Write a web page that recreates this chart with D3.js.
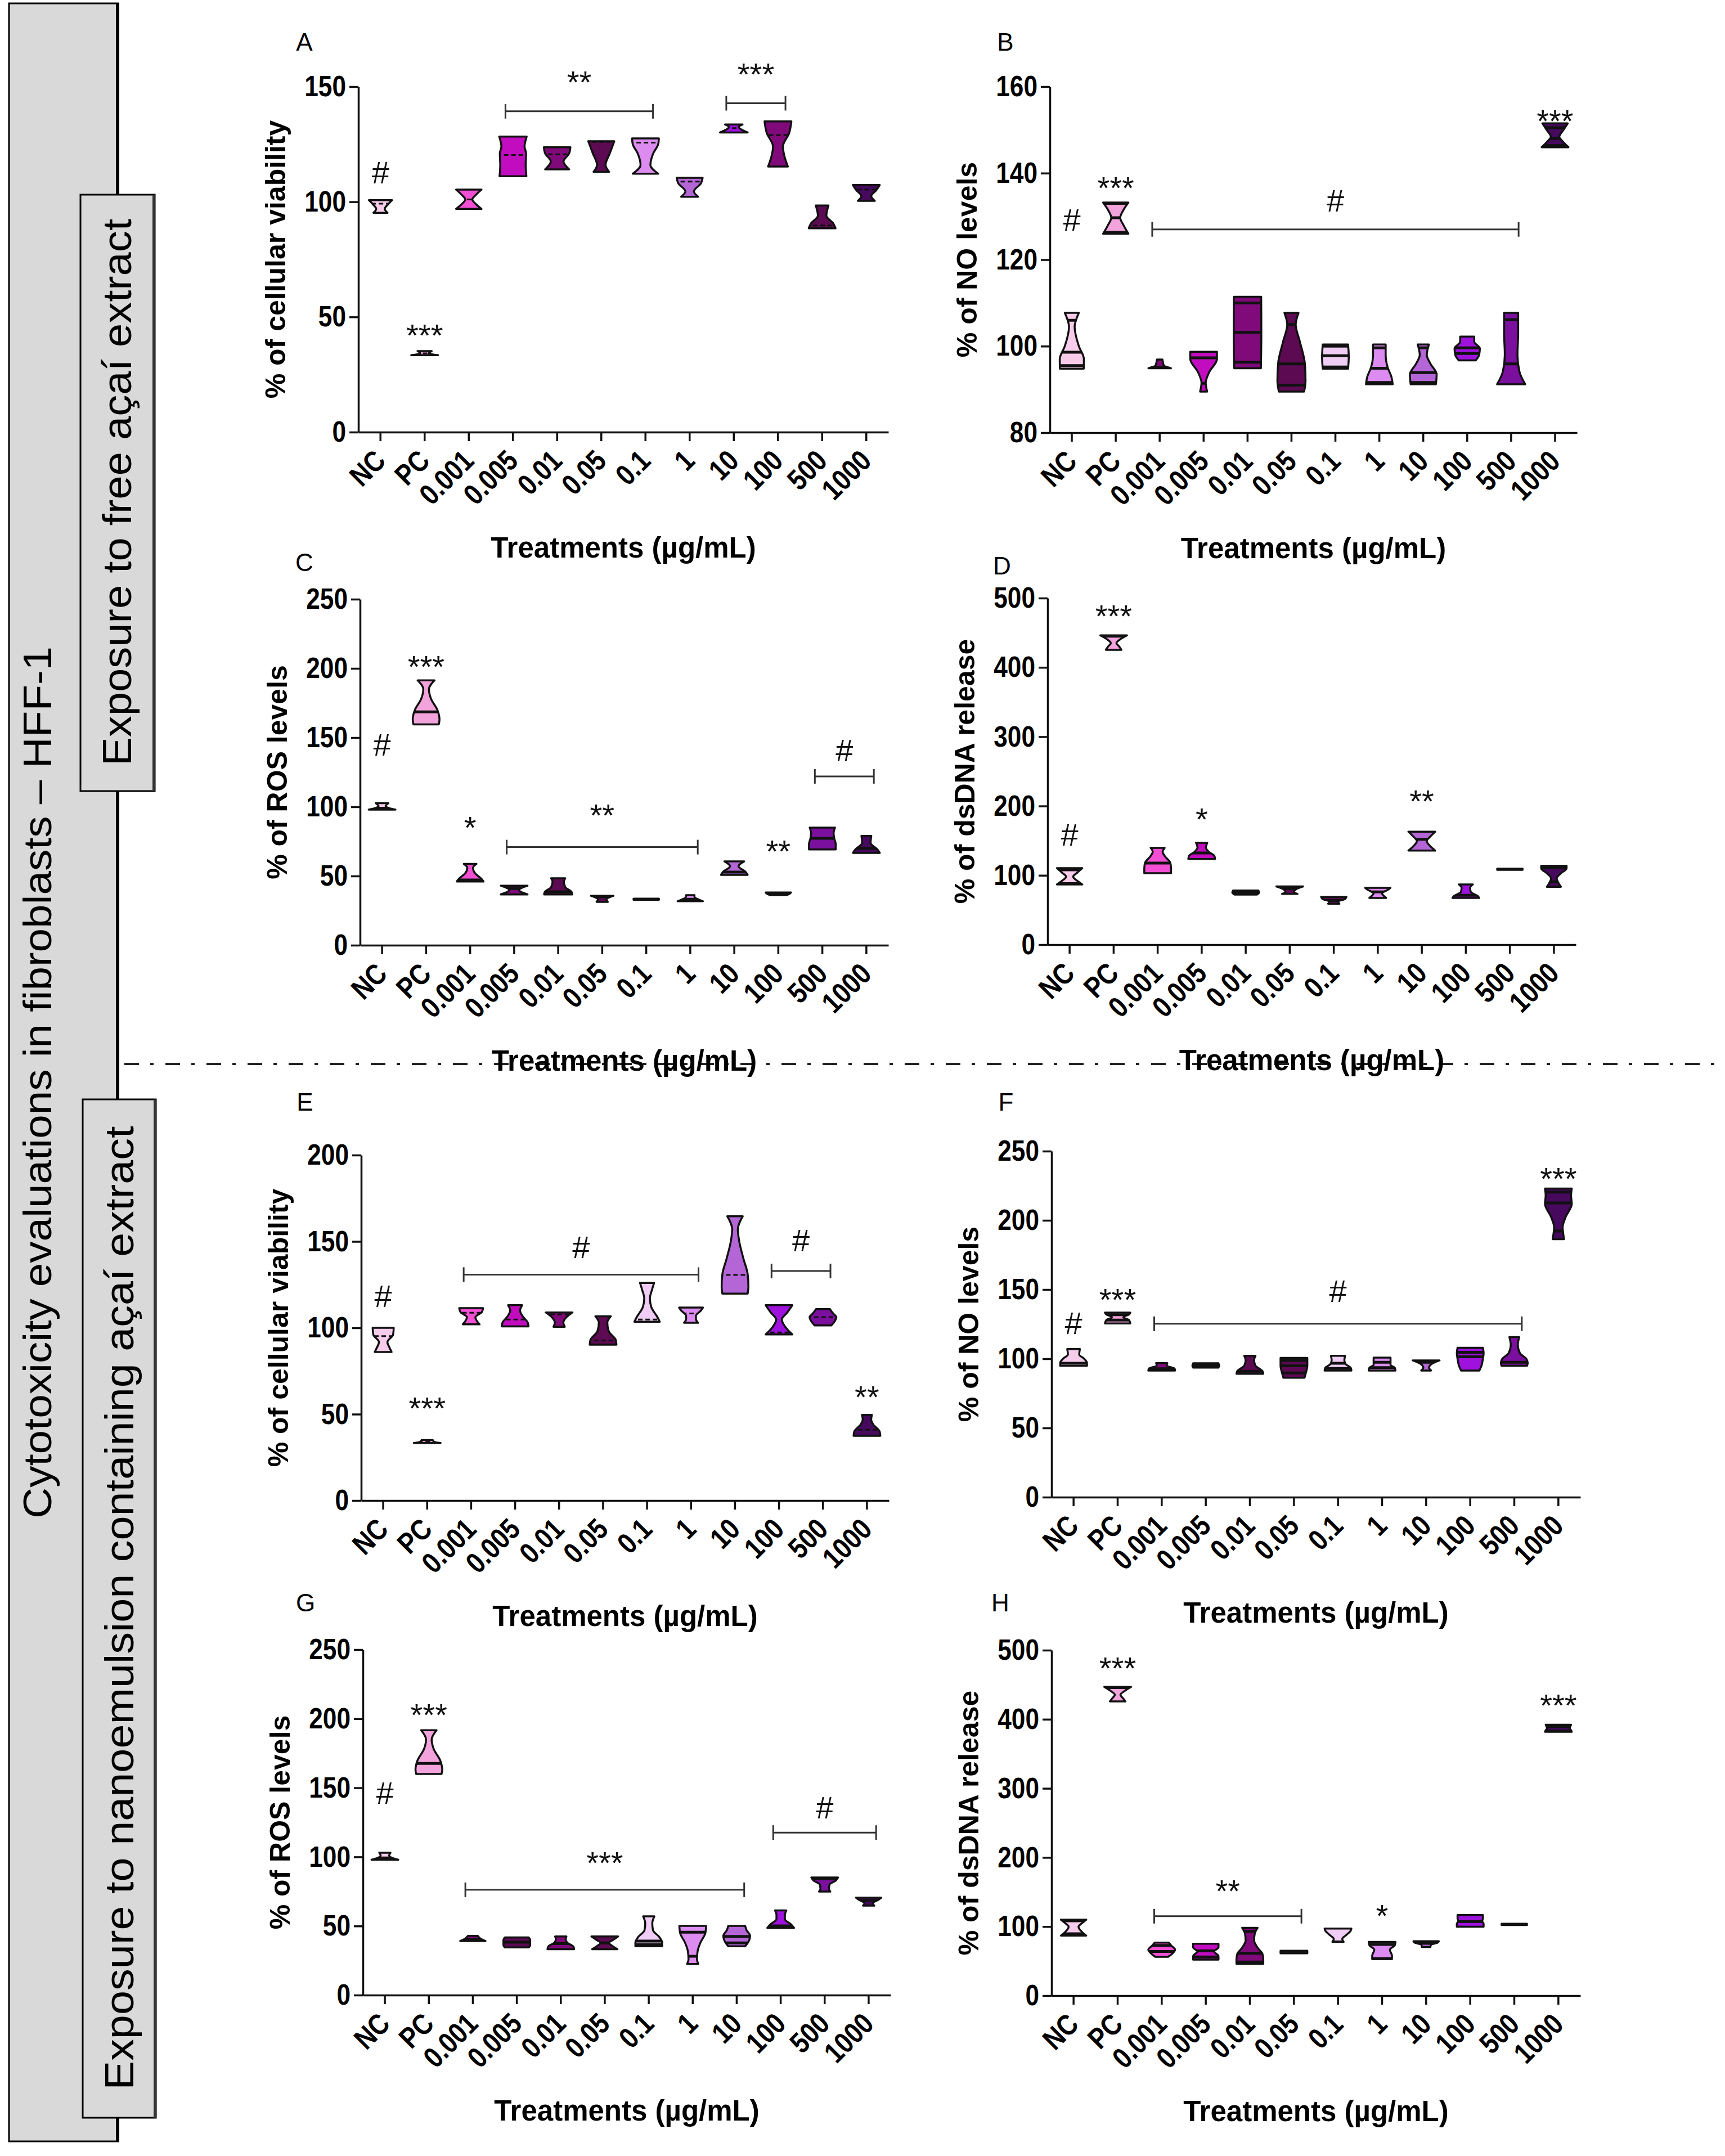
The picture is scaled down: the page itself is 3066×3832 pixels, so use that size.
<!DOCTYPE html>
<html lang="en">
<head>
<meta charset="UTF-8">
<title>Cytotoxicity evaluations in fibroblasts</title>
<script src="https://cdn.jsdelivr.net/npm/d3@7/dist/d3.min.js"></script>
<style>
    body { margin: 0; background: #fff; }
    svg text { font-family: "Liberation Sans", Arial, sans-serif; }
</style>
</head>
<body>
<svg id="fig" width="3066" height="3832"></svg>
<script>
// categories on every x axis
const categories = ["NC", "PC", "0.001", "0.005", "0.01", "0.05", "0.1", "1", "10", "100", "500", "1000"]

// fill palette (light pink -> dark purple) and which one each panel uses per category
const palette = ["#f7cbea", "#f2a3db", "#f24fd4", "#c20cbf", "#800a7a", "#5c0a52",
                 "#efcdf4", "#dc8cf0", "#b466d6", "#9f12de", "#7b0f9e", "#46095e"]
const colorsA = [0, 1, 2, 3, 4, 5, 7, 8, 9, 4, 5, 11]
const colorsB = [0, 1, 4, 3, 4, 5, 6, 7, 8, 9, 10, 11]
const colorsC = [0, 1, 2, 4, 5, 5, 6, 7, 8, 9, 10, 11]
const colorsD = [0, 1, 2, 3, 4, 5, 5, 7, 8, 9, 10, 11]
const colorsE = [0, 1, 2, 3, 4, 5, 6, 7, 8, 9, 10, 11]
const colorsF = [0, 1, 4, 4, 5, 5, 6, 7, 8, 9, 10, 11]
const colorsG = [0, 1, 4, 5, 4, 5, 6, 7, 8, 9, 10, 11]
const colorsH = [0, 1, 2, 3, 4, 5, 6, 7, 8, 9, 10, 11]

// y tick values
const ticksA = [0, 50, 100, 150]
const ticksB = [80, 100, 120, 140, 160]
const ticksC = [0, 50, 100, 150, 200, 250]
const ticksD = [0, 100, 200, 300, 400, 500]
const ticksE = [0, 50, 100, 150, 200]
const ticksF = [0, 50, 100, 150, 200, 250]
const ticksG = [0, 50, 100, 150, 200, 250]
const ticksH = [0, 100, 200, 300, 400, 500]

// violins: s = [value, relative density width], l = median / quartile lines
const violinsA = [
    {s: [[95.2, .5], [96.9, .3], [99, .55], [100.7, .82]], l: [99.2]},
    {s: [[33.4, .95], [34.2, .3], [35.2, .5]], l: [34.2]},
    {s: [[96.9, .9], [99, .5], [101, .25], [103, .5], [105.3, .9]], l: [101]},
    {s: [[111.1, .95], [116, .9], [121, .93], [124, .82], [128.3, .97]], l: [120.3]},
    {s: [[114.1, .85], [117.5, .45], [121, .85], [123.7, .94]], l: [120.6]},
    {s: [[113, .55], [116, .3], [121, .6], [126.3, .92]], l: [126]},
    {s: [[112.2, .9], [116, .35], [121, .55], [125, .9], [127.5, .95]], l: [125.7]},
    {s: [[102.2, .6], [104.5, .3], [108, .8], [110.4, .92]], l: [108.8]},
    {s: [[130.1, .98], [131.5, .5], [132.5, .35], [133.6, .62]], l: [132]},
    {s: [[115.3, .7], [120, .45], [124, .35], [130, .8], [134.9, .95]], l: [129]},
    {s: [[88.5, .95], [90.5, .8], [94, .3], [98.4, .45]], l: [89.7]},
    {s: [[100.4, .6], [102.5, .35], [105, .7], [107.3, .95]], l: [105.3]}
]
const violinsB = [
    {s: [[94.8, .85], [97, .86], [100, .5], [104.5, .2], [106.5, .35], [107.7, .5]], l: [95.5, 98.6, 106]},
    {s: [[126, .9], [128, .55], [129.7, .32], [131.5, .55], [133.2, .9]], l: [126.3, 129.7, 133]},
    {s: [[94.9, .8], [95.5, .3], [96.9, .2]], l: [95.1]},
    {s: [[89.5, .25], [91.5, .15], [94, .4], [97, .95], [98.7, .95]], l: [91.4, 97.3]},
    {s: [[94.9, .95], [103, .98], [111.4, .97]], l: [96.3, 103.2, 110]},
    {s: [[89.5, .9], [92, 1], [96, .95], [101, .6], [105, .3], [107.7, .5]], l: [91, 95.9, 105]},
    {s: [[94.8, .9], [97.5, .95], [100.4, .9]], l: [95.2, 97.8, 100]},
    {s: [[91.2, .95], [93, .85], [95, .6], [98, .45], [100.4, .45]], l: [91.6, 94.9, 99.6]},
    {s: [[91.2, .9], [93.5, .95], [96, .5], [98, .25], [100.4, .4]], l: [91.6, 93.9, 99.6]},
    {s: [[96.7, .6], [98, .85], [99.5, .9], [101, .5], [102.2, .5]], l: [98.3, 99.6]},
    {s: [[91.2, 1], [94, .6], [98, .45], [103, .5], [107.7, .5]], l: [95.9, 106.1]},
    {s: [[146, .95], [147.5, .5], [148.4, .3], [150, .6], [151.5, .9]], l: [146.4, 148, 150.5]}
]
const violinsC = [
    {s: [[98, .95], [99, .5], [100.5, .25], [102.6, .45]], l: [99]},
    {s: [[159.6, .9], [163, .95], [170, .8], [178, .35], [185, .2], [191.4, .6]], l: [168.6]},
    {s: [[46, .95], [48, .8], [52, .35], [56, .2], [58.7, .45]], l: [47.2]},
    {s: [[36.7, .95], [39.8, .35], [43, .95]], l: [41]},
    {s: [[36.7, 1], [38.5, .95], [42, .5], [46, .4], [48.4, .5]], l: [38.6]},
    {s: [[31.3, .4], [33, .3], [35.7, .8]], l: [35]},
    {s: [[32.8, .9], [33.6, .9]], l: [33.2]},
    {s: [[31.8, .9], [33, .6], [35, .3], [36.2, .3]], l: [33.2]},
    {s: [[50.8, .95], [53, .8], [57, .3], [60.6, .7]], l: [52.8]},
    {s: [[36.2, .6], [37.2, .8], [38.1, .9]], l: [37.5]},
    {s: [[69.2, .95], [73, .95], [77, .85], [81, .8], [85, .9]], l: [77.2]},
    {s: [[66.7, .95], [69, .8], [74, .3], [79, .35]], l: [70]}
]
const violinsD = [
    {s: [[86.9, .9], [92, .55], [98, .25], [104, .55], [110.4, .9]], l: [88, 108]},
    {s: [[425.3, .55], [430, .4], [435, .2], [441, .5], [446.3, .95]], l: [445]},
    {s: [[103, .95], [110, .95], [118, .9], [128, .5], [134, .35], [139.7, .5]], l: [117.7]},
    {s: [[123.5, .95], [128, .9], [134, .5], [140, .3], [147, .4]], l: [132.3]},
    {s: [[72.3, .8], [75, .95], [78.1, .9]], l: [75.2]},
    {s: [[73.2, .55], [76, .3], [80, .45], [84, .95]], l: [81]},
    {s: [[59.1, .4], [62, .3], [66, .8], [68.8, .9]], l: [64]},
    {s: [[67.4, .6], [70, .45], [74, .3], [79, .7], [82, .9]], l: [76]},
    {s: [[135.7, .95], [142, .6], [149.4, .35], [156, .6], [163, .95]], l: [151.9]},
    {s: [[67.4, .95], [70, .85], [76, .35], [82, .3], [86.9, .5]], l: [71.3]},
    {s: [[108, .9], [109.6, .9]], l: [108.8]},
    {s: [[83.5, .5], [88, .35], [95.7, .2], [103, .5], [110, .9], [113.8, .9]], l: [90.8, 111.3]}
]
const violinsE = [
    {s: [[86, .6], [88.5, .45], [91.7, .3], [96, .7], [100, .75]], l: [95.2]},
    {s: [[33.3, .95], [34, .5], [35, .4]], l: [34]},
    {s: [[102, .6], [104, .4], [106.2, .3], [109, .75], [111.4, .85]], l: [108.7]},
    {s: [[100.8, .95], [103, .9], [106.5, .55], [110, .35], [113.1, .5]], l: [104.8]},
    {s: [[100.6, .4], [103, .3], [106, .5], [108.9, .95]], l: [107.7]},
    {s: [[90.2, .95], [93, .9], [98, .4], [103, .3], [106.7, .55]], l: [92.7]},
    {s: [[103.5, .9], [106, .75], [112, .3], [117, .2], [122, .35], [126, .5]], l: [104.8]},
    {s: [[102.9, .5], [105, .35], [107, .35], [110, .7], [111.7, .85]], l: [108.3]},
    {s: [[119.8, .9], [124, .95], [131, .9], [140, .6], [150, .3], [157, .2], [164.6, .55]], l: [130.6]},
    {s: [[96.2, .95], [99, .6], [104.8, .2], [109, .6], [113.1, .95]], l: [97.3]},
    {s: [[101.4, .6], [104, .85], [106.2, .95], [108.5, .7], [110.8, .5]], l: [106.2]},
    {s: [[37.5, .95], [40, .9], [44, .45], [47, .3], [49.6, .35]], l: [41]}
]
const violinsF = [
    {s: [[94.9, .95], [97, .95], [100, .75], [103, .4], [107, .45]], l: [96.7]},
    {s: [[125.5, .9], [128, .8], [130, .4], [132, .8], [133.3, .9]], l: [127.9, 131.8]},
    {s: [[91.5, .95], [93, .9], [95, .35], [96.9, .4]], l: [92.8]},
    {s: [[93.6, .9], [95, .95], [96.7, .9]], l: [95.1]},
    {s: [[89.1, .95], [91, .9], [95, .4], [99, .3], [102.1, .4]], l: [91]},
    {s: [[86.3, .75], [90, .85], [95, .95], [100.6, .95]], l: [89.7, 94.9, 98.8]},
    {s: [[91.5, .95], [93.5, .9], [96, .55], [99, .45], [102.1, .5]], l: [93, 96.7]},
    {s: [[91.5, .95], [93.5, .9], [95.5, .6], [98, .6], [100.8, .6]], l: [93.6, 97.5]},
    {s: [[91.5, .35], [93.5, .2], [96, .35], [98.8, .95]], l: [97.5]},
    {s: [[91.5, .65], [95, .8], [100, .9], [104, .95], [107.9, .9]], l: [101.4, 104.7]},
    {s: [[94.9, .9], [97, .95], [100, .85], [104, .4], [110, .25], [115.7, .35]], l: [97.5]},
    {s: [[186.4, .4], [190, .35], [195, .3], [202, .5], [212, .95], [218, .9], [223, .95]], l: [192.3, 212.6, 220.4]}
]
const violinsG = [
    {s: [[97.9, .95], [99, .6], [101, .3], [103, .4]], l: [99.2]},
    {s: [[160, .9], [163, .95], [170, .8], [178, .35], [185, .2], [191.7, .55]], l: [167.7]},
    {s: [[39.1, .9], [40.5, .6], [42.9, .35]], l: [40.1]},
    {s: [[34.5, .85], [36, .95], [40, .95], [41.7, .85]], l: [38.3]},
    {s: [[33.2, .95], [35, .9], [38, .45], [40.5, .35], [42.4, .4]], l: [37.3]},
    {s: [[33.2, .9], [35.5, .55], [37.8, .3], [40, .6], [42.4, .95]], l: [37.8]},
    {s: [[35.3, .95], [38, .95], [42, .75], [47, .3], [52, .25], [57, .4]], l: [36.5, 39.1]},
    {s: [[22.5, .4], [26, .3], [32, .35], [38, .55], [45, .9], [50.1, .95]], l: [28.1, 45.5]},
    {s: [[35.3, .6], [38, .8], [42.9, .95], [47, .7], [50.1, .6]], l: [37.8, 42.4]},
    {s: [[48.6, .95], [51, .75], [55, .3], [58, .3], [61.3, .4]], l: [50.1]},
    {s: [[74.9, .4], [77, .3], [80, .35], [83, .8], [85.1, .95]], l: [84.3]},
    {s: [[64.7, .4], [66.5, .3], [69, .7], [70.5, .9]], l: [68.5]}
]
const violinsH = [
    {s: [[86.9, .9], [92, .6], [99.7, .35], [105, .6], [109.9, .9]], l: [89.5, 108.4]},
    {s: [[425.8, .55], [430, .4], [435.5, .2], [441, .5], [446.8, .95]], l: [445.8]},
    {s: [[56.2, .45], [60, .7], [66.5, .95], [72, .7], [76.7, .5]], l: [63.9, 72.6]},
    {s: [[52.1, .9], [57, .9], [63.9, .6], [70, .9], [75.1, .9]], l: [56, 64.9]},
    {s: [[46, .95], [52, .95], [60, .9], [68, .6], [80, .3], [90, .35], [98.2, .55]], l: [48.6, 61.3, 93]},
    {s: [[61.3, .95], [64.9, .95]], l: [63.4]},
    {s: [[77.7, .4], [82, .3], [88, .6], [94, .9], [97.1, .95]], l: [77.7]},
    {s: [[52.7, .7], [58, .7], [66.5, .55], [73, .9], [77.7, .95]], l: [53.7, 74.1]},
    {s: [[70.5, .3], [74, .35], [76.5, .8], [78.7, .9]], l: [75.7]},
    {s: [[99.7, .95], [104, .95], [108, .85], [112, .9], [116.6, .9]], l: [107.3]},
    {s: [[102.3, .9], [104, .9]], l: [103.2]},
    {s: [[381.9, .95], [384, .9], [387, .8], [390, .85], [392, .9]], l: [383, 389.5]}
]

// significance marks over single groups
const notesA = [{cat: "NC", text: "#", v: 113}, {cat: "PC", text: "***", v: 45.6}]
const notesB = [{cat: "NC", text: "#", v: 129.3}, {cat: "PC", text: "***", v: 138.5}, {cat: "1000", text: "***", v: 154}]
const notesC = [{cat: "NC", text: "#", v: 145}, {cat: "PC", text: "***", v: 207}, {cat: "0.001", text: "*", v: 91}, {cat: "100", text: "**", v: 74}]
const notesD = [{cat: "NC", text: "#", v: 159}, {cat: "PC", text: "***", v: 486}, {cat: "0.005", text: "*", v: 193}, {cat: "10", text: "**", v: 219}]
const notesE = [{cat: "NC", text: "#", v: 118.7}, {cat: "PC", text: "***", v: 58.3}, {cat: "1000", text: "**", v: 64.6}]
const notesF = [{cat: "NC", text: "#", v: 126}, {cat: "PC", text: "***", v: 148.7}, {cat: "1000", text: "***", v: 236}]
const notesG = [{cat: "NC", text: "#", v: 146.5}, {cat: "PC", text: "***", v: 208.6}]
const notesH = [{cat: "PC", text: "***", v: 485.6}, {cat: "1", text: "*", v: 127.8}, {cat: "1000", text: "***", v: 432}]

// significance brackets over a range of groups (v = bracket level, tv = mark level)
const bracketsA = [{from: "0.005", to: "0.1", v: 139.3, text: "**", tv: 155.5}, {from: "10", to: "100", v: 142.8, text: "***", tv: 158.9}]
const bracketsB = [{from: "0.001", to: "500", v: 127, text: "#", tv: 133.8}]
const bracketsC = [{from: "0.005", to: "1", v: 70.9, text: "**", tv: 99.7}, {from: "500", to: "1000", v: 122, text: "#", tv: 141}]
const bracketsD = []
const bracketsE = [{from: "0.001", to: "1", v: 130.8, text: "#", tv: 146.9}, {from: "100", to: "500", v: 132.9, text: "#", tv: 151}]
const bracketsF = [{from: "0.001", to: "500", v: 125.3, text: "#", tv: 149.4}]
const bracketsG = [{from: "0.001", to: "10", v: 76.2, text: "***", tv: 101.7}, {from: "100", to: "1000", v: 117.6, text: "#", tv: 136.2}]
const bracketsH = [{from: "0.001", to: "0.05", v: 115, text: "**", tv: 163.6}]

const panels = [
    {id: "A", yLabel: "% of cellular viability", ticks: ticksA, violins: violinsA, colors: colorsA, notes: notesA, brackets: bracketsA, dashed: true,
        x0: 637, x1: 1579, top: 154, bottom: 768, lx: 541, ly: 74},
    {id: "B", yLabel: "% of NO levels", ticks: ticksB, violins: violinsB, colors: colorsB, notes: notesB, brackets: bracketsB,
        x0: 1866, x1: 2803, top: 154, bottom: 769, lx: 1787, ly: 74},
    {id: "C", yLabel: "% of ROS levels", ticks: ticksC, violins: violinsC, colors: colorsC, notes: notesC, brackets: bracketsC,
        x0: 640, x1: 1579, top: 1065, bottom: 1680, lx: 541, ly: 999},
    {id: "D", yLabel: "% of dsDNA release", ticks: ticksD, violins: violinsD, colors: colorsD, notes: notesD, brackets: bracketsD,
        x0: 1862, x1: 2801, top: 1063, bottom: 1679, lx: 1781, ly: 1005},
    {id: "E", yLabel: "% of cellular viability", ticks: ticksE, violins: violinsE, colors: colorsE, notes: notesE, brackets: bracketsE, dashed: true,
        x0: 642, x1: 1580, top: 2053, bottom: 2667, lx: 542, ly: 1958},
    {id: "F", yLabel: "% of NO levels", ticks: ticksF, violins: violinsF, colors: colorsF, notes: notesF, brackets: bracketsF,
        x0: 1869, x1: 2809, top: 2046, bottom: 2661, lx: 1788, ly: 1958},
    {id: "G", yLabel: "% of ROS levels", ticks: ticksG, violins: violinsG, colors: colorsG, notes: notesG, brackets: bracketsG,
        x0: 645, x1: 1583, top: 2932, bottom: 3546, lx: 543, ly: 2848},
    {id: "H", yLabel: "% of dsDNA release", ticks: ticksH, violins: violinsH, colors: colorsH, notes: notesH, brackets: bracketsH,
        x0: 1869, x1: 2809, top: 2933, bottom: 3547, lx: 1778, ly: 2848}
]

const svg = d3.select("#fig")
const narrow = 0.85 // tick labels are set in a condensed bold face

/** side labels */
function drawSideLabels() {
    const g = svg.append("g")
    g.append("rect").attr("x", 16).attr("y", 6).attr("width", 194).attr("height", 3800)
        .attr("fill", "#d9d9d9").attr("stroke", "#000").attr("stroke-width", 3)
    g.append("line").attr("x1", 209).attr("x2", 209).attr("y1", 6).attr("y2", 3806)
        .attr("stroke", "#000").attr("stroke-width", 6)
    g.append("text")
        .attr("transform", "translate(91,1924) rotate(-90)")
        .attr("text-anchor", "middle").attr("font-size", 70)
        .attr("textLength", 1550).attr("lengthAdjust", "spacingAndGlyphs")
        .text("Cytotoxicity evaluations in fibroblasts \u2013 HFF-1")

    const boxes = [
        {x: 143, y: 346, w: 132, h: 1060, tx: 233, ty: 875, len: 972, text: "Exposure to free a\u00e7a\u00ed extract"},
        {x: 147, y: 1954, w: 130, h: 1810, tx: 237, ty: 2858, len: 1713, text: "Exposure to nanoemulsion containing a\u00e7a\u00ed extract"}
    ]
    boxes.forEach(b => {
        g.append("rect").attr("x", b.x).attr("y", b.y).attr("width", b.w).attr("height", b.h)
            .attr("fill", "#d9d9d9").attr("stroke", "#000").attr("stroke-width", 3)
        g.append("line").attr("x1", b.x + b.w - 2).attr("x2", b.x + b.w - 2).attr("y1", b.y).attr("y2", b.y + b.h)
            .attr("stroke", "#333").attr("stroke-width", 4)
        g.append("text")
            .attr("transform", `translate(${b.tx},${b.ty}) rotate(-90)`)
            .attr("text-anchor", "middle").attr("font-size", 72)
            .attr("textLength", b.len).attr("lengthAdjust", "spacingAndGlyphs")
            .text(b.text)
    })

    // dash-dot separator between the two exposures
    svg.append("line").attr("x1", 221).attr("x2", 3058).attr("y1", 1891).attr("y2", 1891)
        .attr("stroke", "#222").attr("stroke-width", 4).attr("stroke-dasharray", "26 20 6 21")
}

/** one violin panel */
function drawPanel(p) {
    const g = svg.append("g").attr("class", "panel" + p.id)
    const x = d3.scaleBand().domain(categories).range([p.x0, p.x1])
    const y = d3.scaleLinear().domain([p.ticks[0], p.ticks[p.ticks.length - 1]]).range([p.bottom, p.top])
    const halfW = x.step() * 0.32

    // panel letter
    g.append("text").attr("x", p.lx).attr("y", p.ly).attr("dy", "0.36em")
        .attr("text-anchor", "middle").attr("font-size", 44).text(p.id)

    // violins
    p.violins.forEach((v, i) => {
        const cx = x(categories[i]) + x.bandwidth() / 2
        const pts = v.s.slice().sort((a, b) => b[0] - a[0])
        const area = d3.area()
            .y(d => y(d[0]))
            .x0(d => cx - halfW * d[1])
            .x1(d => cx + halfW * d[1])
            .curve(d3.curveMonotoneY)
        const clipId = `clip${p.id}${i}`
        g.append("clipPath").attr("id", clipId).append("path").attr("d", area(pts))
        g.append("path").attr("d", area(pts))
            .attr("fill", palette[p.colors[i]])
        const lines = g.append("g").attr("clip-path", `url(#${clipId})`)
        v.l.forEach(val => {
            lines.append("line")
                .attr("x1", cx - halfW - 4).attr("x2", cx + halfW + 4)
                .attr("y1", y(val)).attr("y2", y(val))
                .attr("stroke", "#111")
                .attr("stroke-width", p.dashed ? 3 : 5)
                .attr("stroke-dasharray", p.dashed ? "8 5" : null)
        })
        g.append("path").attr("d", area(pts))
            .attr("fill", "none").attr("stroke", "#111").attr("stroke-width", 3.5)
            .attr("stroke-linejoin", "round")
    })

    // axes
    const yAxis = g.append("g").attr("transform", `translate(${p.x0},0)`)
        .call(d3.axisLeft(y).tickValues(p.ticks).tickSize(16).tickSizeOuter(0).tickPadding(6))
    yAxis.selectAll("text")
        .attr("x", -22 / narrow)
        .attr("transform", `scale(${narrow},1)`)
        .attr("font-size", 52).attr("font-weight", "bold").attr("fill", "#000")
    const xAxis = g.append("g").attr("transform", `translate(0,${p.bottom})`)
        .call(d3.axisBottom(x).tickSize(16).tickSizeOuter(0))
    xAxis.selectAll("text")
        .attr("x", 0).attr("y", 0).attr("dy", 0)
        .attr("transform", `translate(12,54) rotate(-45) scale(${narrow},1)`)
        .attr("text-anchor", "end")
        .attr("font-size", 52).attr("font-weight", "bold").attr("fill", "#000")
    g.selectAll(".domain, .tick line").attr("stroke", "#111").attr("stroke-width", 3.5)

    // axis titles
    g.append("text")
        .attr("transform", `translate(${p.x0 - 148},${(p.top + p.bottom) / 2}) rotate(-90)`)
        .attr("text-anchor", "middle").attr("dy", "0.36em")
        .attr("font-size", 50).attr("font-weight", "bold")
        .text(p.yLabel)
    g.append("text")
        .attr("x", (p.x0 + p.x1) / 2).attr("y", p.bottom + 205).attr("dy", "0.36em")
        .attr("text-anchor", "middle").attr("font-size", 51).attr("font-weight", "bold")
        .text("Treatments (\u00b5g/mL)")

    // marks: '#' is centred on its level, asterisks sit high in the font
    const markDy = t => t.indexOf("#") >= 0 ? "0.36em" : "0.6em"
    p.notes.forEach(n => {
        g.append("text").attr("x", x(n.cat) + x.bandwidth() / 2).attr("y", y(n.v))
            .attr("dy", markDy(n.text)).attr("text-anchor", "middle")
            .attr("font-size", 56).attr("fill", "#111").text(n.text)
    })
    p.brackets.forEach(b => {
        const xa = x(b.from) + x.bandwidth() / 2 - x.step() * 0.17
        const xb = x(b.to) + x.bandwidth() / 2 + x.step() * 0.17
        const yb = y(b.v)
        const br = g.append("g").attr("stroke", "#333").attr("stroke-width", 3)
        br.append("line").attr("x1", xa).attr("x2", xb).attr("y1", yb).attr("y2", yb)
        br.append("line").attr("x1", xa).attr("x2", xa).attr("y1", yb - 13).attr("y2", yb + 13)
        br.append("line").attr("x1", xb).attr("x2", xb).attr("y1", yb - 13).attr("y2", yb + 13)
        g.append("text").attr("x", (xa + xb) / 2).attr("y", y(b.tv))
            .attr("dy", markDy(b.text)).attr("text-anchor", "middle")
            .attr("font-size", 56).attr("fill", "#111").text(b.text)
    })
}

drawSideLabels()
panels.forEach(drawPanel)
</script>
</body>
</html>
